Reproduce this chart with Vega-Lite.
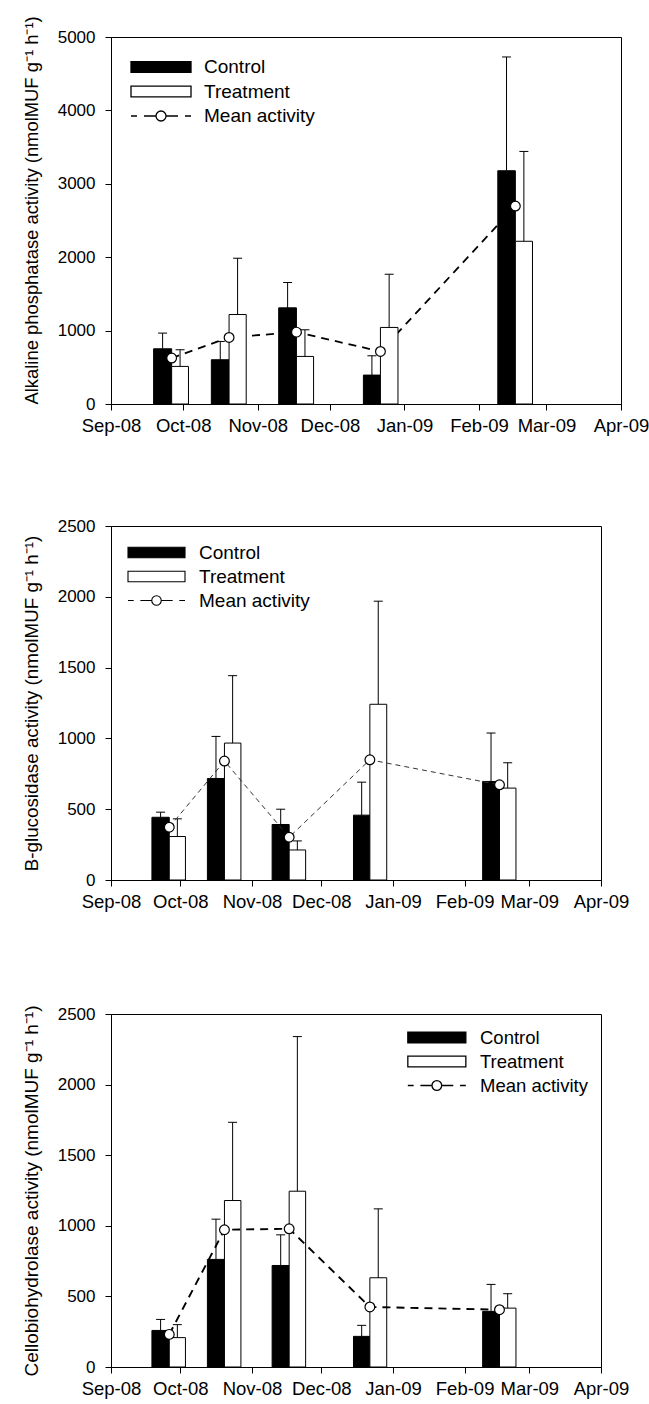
{
  "$schema": "https://vega.github.io/schema/vega-lite/v6.json",
  "padding": {"left": 21, "top": 15, "right": 5, "bottom": 5},
  "spacing": 81,
  "background": "white",
  "config": {
    "view": {"stroke": "black", "strokeWidth": 1},
    "font": "Liberation Sans",
    "axis": {"grid": false, "domainColor": "black", "tickColor": "black", "labelColor": "black", "titleColor": "black", "labelFont": "Liberation Sans", "titleFont": "Liberation Sans", "titleFontWeight": "normal"},
    "legend": {"labelFont": "Liberation Sans", "labelColor": "black"}
  },
  "resolve": {"scale": {"fill": "independent", "shape": "independent"}, "legend": {"fill": "independent", "shape": "independent"}},
  "datasets": {
    "bars": [
      {"p": "AP", "series": "Control", "start": "2008-09-18T17:00:00Z", "end": "2008-09-26T05:00:00Z", "c": "2008-09-22T11:00:00Z", "value": 752, "top": 966},
      {"p": "AP", "series": "Treatment", "start": "2008-09-26T05:00:00Z", "end": "2008-10-03T05:00:00Z", "c": "2008-09-29T17:00:00Z", "value": 512, "top": 739},
      {"p": "AP", "series": "Control", "start": "2008-10-12T17:00:00Z", "end": "2008-10-20T02:00:00Z", "c": "2008-10-16T10:00:00Z", "value": 603, "top": 852},
      {"p": "AP", "series": "Treatment", "start": "2008-10-20T02:00:00Z", "end": "2008-10-27T05:00:00Z", "c": "2008-10-23T15:00:00Z", "value": 1219, "top": 1986},
      {"p": "AP", "series": "Control", "start": "2008-11-09T17:00:00Z", "end": "2008-11-17T02:00:00Z", "c": "2008-11-13T10:00:00Z", "value": 1310, "top": 1655},
      {"p": "AP", "series": "Treatment", "start": "2008-11-17T02:00:00Z", "end": "2008-11-24T05:00:00Z", "c": "2008-11-20T15:00:00Z", "value": 648, "top": 1011},
      {"p": "AP", "series": "Control", "start": "2008-12-14T22:00:00Z", "end": "2008-12-22T00:00:00Z", "c": "2008-12-18T11:00:00Z", "value": 394, "top": 657},
      {"p": "AP", "series": "Treatment", "start": "2008-12-22T00:00:00Z", "end": "2008-12-29T07:00:00Z", "c": "2008-12-25T15:00:00Z", "value": 1043, "top": 1768},
      {"p": "AP", "series": "Control", "start": "2009-02-08T19:00:00Z", "end": "2009-02-16T02:00:00Z", "c": "2009-02-12T10:00:00Z", "value": 3178, "top": 4728},
      {"p": "AP", "series": "Treatment", "start": "2009-02-16T02:00:00Z", "end": "2009-02-23T05:00:00Z", "c": "2009-02-19T15:00:00Z", "value": 2217, "top": 3441},

      {"p": "BG", "series": "Control", "start": "2008-09-18T17:00:00Z", "end": "2008-09-26T05:00:00Z", "c": "2008-09-22T11:00:00Z", "value": 443, "top": 479},
      {"p": "BG", "series": "Treatment", "start": "2008-09-26T05:00:00Z", "end": "2008-10-03T05:00:00Z", "c": "2008-09-29T17:00:00Z", "value": 307, "top": 432},
      {"p": "BG", "series": "Control", "start": "2008-10-12T17:00:00Z", "end": "2008-10-20T02:00:00Z", "c": "2008-10-16T10:00:00Z", "value": 717, "top": 1014},
      {"p": "BG", "series": "Treatment", "start": "2008-10-20T02:00:00Z", "end": "2008-10-27T05:00:00Z", "c": "2008-10-23T15:00:00Z", "value": 967, "top": 1443},
      {"p": "BG", "series": "Control", "start": "2008-11-09T17:00:00Z", "end": "2008-11-17T02:00:00Z", "c": "2008-11-13T10:00:00Z", "value": 392, "top": 500},
      {"p": "BG", "series": "Treatment", "start": "2008-11-17T02:00:00Z", "end": "2008-11-24T05:00:00Z", "c": "2008-11-20T15:00:00Z", "value": 212, "top": 276},
      {"p": "BG", "series": "Control", "start": "2008-12-14T22:00:00Z", "end": "2008-12-22T00:00:00Z", "c": "2008-12-18T11:00:00Z", "value": 458, "top": 691},
      {"p": "BG", "series": "Treatment", "start": "2008-12-22T00:00:00Z", "end": "2008-12-29T07:00:00Z", "c": "2008-12-25T15:00:00Z", "value": 1241, "top": 1969},
      {"p": "BG", "series": "Control", "start": "2009-02-08T19:00:00Z", "end": "2009-02-16T02:00:00Z", "c": "2009-02-12T10:00:00Z", "value": 696, "top": 1038},
      {"p": "BG", "series": "Treatment", "start": "2009-02-16T02:00:00Z", "end": "2009-02-23T05:00:00Z", "c": "2009-02-19T15:00:00Z", "value": 649, "top": 828},

      {"p": "CB", "series": "Control", "start": "2008-09-18T17:00:00Z", "end": "2008-09-26T05:00:00Z", "c": "2008-09-22T11:00:00Z", "value": 259, "top": 337},
      {"p": "CB", "series": "Treatment", "start": "2008-09-26T05:00:00Z", "end": "2008-10-03T05:00:00Z", "c": "2008-09-29T17:00:00Z", "value": 208, "top": 300},
      {"p": "CB", "series": "Control", "start": "2008-10-12T17:00:00Z", "end": "2008-10-20T02:00:00Z", "c": "2008-10-16T10:00:00Z", "value": 762, "top": 1047},
      {"p": "CB", "series": "Treatment", "start": "2008-10-20T02:00:00Z", "end": "2008-10-27T05:00:00Z", "c": "2008-10-23T15:00:00Z", "value": 1179, "top": 1733},
      {"p": "CB", "series": "Control", "start": "2008-11-09T17:00:00Z", "end": "2008-11-17T02:00:00Z", "c": "2008-11-13T10:00:00Z", "value": 719, "top": 936},
      {"p": "CB", "series": "Treatment", "start": "2008-11-17T02:00:00Z", "end": "2008-11-24T05:00:00Z", "c": "2008-11-20T15:00:00Z", "value": 1245, "top": 2340},
      {"p": "CB", "series": "Control", "start": "2008-12-14T22:00:00Z", "end": "2008-12-22T00:00:00Z", "c": "2008-12-18T11:00:00Z", "value": 217, "top": 295},
      {"p": "CB", "series": "Treatment", "start": "2008-12-22T00:00:00Z", "end": "2008-12-29T07:00:00Z", "c": "2008-12-25T15:00:00Z", "value": 632, "top": 1120},
      {"p": "CB", "series": "Control", "start": "2009-02-08T19:00:00Z", "end": "2009-02-16T02:00:00Z", "c": "2009-02-12T10:00:00Z", "value": 394, "top": 585},
      {"p": "CB", "series": "Treatment", "start": "2009-02-16T02:00:00Z", "end": "2009-02-23T05:00:00Z", "c": "2009-02-19T15:00:00Z", "value": 417, "top": 519}
    ],
    "means": [
      {"p": "AP", "series": "Mean activity", "date": "2008-09-26T05:00:00Z", "value": 626},
      {"p": "AP", "series": "Mean activity", "date": "2008-10-20T02:00:00Z", "value": 907},
      {"p": "AP", "series": "Mean activity", "date": "2008-11-17T02:00:00Z", "value": 979},
      {"p": "AP", "series": "Mean activity", "date": "2008-12-22T00:00:00Z", "value": 716},
      {"p": "AP", "series": "Mean activity", "date": "2009-02-16T02:00:00Z", "value": 2697},
      {"p": "BG", "series": "Mean activity", "date": "2008-09-26T05:00:00Z", "value": 373},
      {"p": "BG", "series": "Mean activity", "date": "2008-10-20T02:00:00Z", "value": 840},
      {"p": "BG", "series": "Mean activity", "date": "2008-11-17T02:00:00Z", "value": 302},
      {"p": "BG", "series": "Mean activity", "date": "2008-12-22T00:00:00Z", "value": 849},
      {"p": "BG", "series": "Mean activity", "date": "2009-02-16T02:00:00Z", "value": 672},
      {"p": "CB", "series": "Mean activity", "date": "2008-09-26T05:00:00Z", "value": 231},
      {"p": "CB", "series": "Mean activity", "date": "2008-10-20T02:00:00Z", "value": 972},
      {"p": "CB", "series": "Mean activity", "date": "2008-11-17T02:00:00Z", "value": 979},
      {"p": "CB", "series": "Mean activity", "date": "2008-12-22T00:00:00Z", "value": 425},
      {"p": "CB", "series": "Mean activity", "date": "2009-02-16T02:00:00Z", "value": 406}
    ]
  },
  "vconcat": [
    {
      "width": 510,
      "height": 367,
      "layer": [
        {
          "data": {"name": "means"},
          "transform": [{"filter": "datum.p == 'AP'"}],
          "mark": {"type": "line", "color": "black", "strokeWidth": 1.8, "strokeDash": [8, 6]},
          "encoding": {
            "x": {"field": "date", "type": "temporal",
              "scale": {"type": "utc", "domain": [{"year": 2008, "month": 9, "date": 1, "utc": true}, {"year": 2009, "month": 4, "date": 1, "utc": true}]},
              "axis": {"title": null, "labelFontSize": 18.5, "labelOverlap": false, "labelFlush": false, "labelBound": false, "labelPadding": 6, "labelDx": -5,
                "tickSize": {"condition": {"test": "utcdate(datum.value) == 1", "value": 6}, "value": 3},
                "labelExpr": "utcdate(datum.value) == 1 ? utcFormat(datum.value, '%b-%y') : ''",
                "values": [
                  {"year": 2008, "month": 9, "date": 1, "utc": true}, {"year": 2008, "month": 9, "date": 8, "utc": true}, {"year": 2008, "month": 9, "date": 16, "utc": true}, {"year": 2008, "month": 9, "date": 23, "utc": true},
                  {"year": 2008, "month": 10, "date": 1, "utc": true}, {"year": 2008, "month": 10, "date": 8, "utc": true}, {"year": 2008, "month": 10, "date": 16, "utc": true}, {"year": 2008, "month": 10, "date": 23, "utc": true},
                  {"year": 2008, "month": 11, "date": 1, "utc": true}, {"year": 2008, "month": 11, "date": 8, "utc": true}, {"year": 2008, "month": 11, "date": 16, "utc": true}, {"year": 2008, "month": 11, "date": 23, "utc": true},
                  {"year": 2008, "month": 12, "date": 1, "utc": true}, {"year": 2008, "month": 12, "date": 8, "utc": true}, {"year": 2008, "month": 12, "date": 16, "utc": true}, {"year": 2008, "month": 12, "date": 23, "utc": true},
                  {"year": 2009, "month": 1, "date": 1, "utc": true}, {"year": 2009, "month": 1, "date": 8, "utc": true}, {"year": 2009, "month": 1, "date": 16, "utc": true}, {"year": 2009, "month": 1, "date": 23, "utc": true},
                  {"year": 2009, "month": 2, "date": 1, "utc": true}, {"year": 2009, "month": 2, "date": 8, "utc": true}, {"year": 2009, "month": 2, "date": 15, "utc": true}, {"year": 2009, "month": 2, "date": 22, "utc": true},
                  {"year": 2009, "month": 3, "date": 1, "utc": true}, {"year": 2009, "month": 3, "date": 8, "utc": true}, {"year": 2009, "month": 3, "date": 16, "utc": true}, {"year": 2009, "month": 3, "date": 23, "utc": true},
                  {"year": 2009, "month": 4, "date": 1, "utc": true}
                ]}},
            "y": {"field": "value", "type": "quantitative",
              "scale": {"domain": [0, 5000], "nice": false},
              "axis": {"title": "Alkaline phosphatase activity (nmolMUF g⁻¹ h⁻¹)", "titleAnchor": "start", "titleFontSize": 18.4, "titlePadding": 16, "labelFontSize": 17, "labelPadding": 10, "tickSize": 6, "format": "d", "values": [0, 1000, 2000, 3000, 4000, 5000]}}
          }
        },
        {
          "data": {"name": "bars"},
          "transform": [{"filter": "datum.p == 'AP'"}],
          "mark": {"type": "bar", "stroke": "black", "strokeWidth": 1, "opacity": 1},
          "encoding": {
            "x": {"field": "start", "type": "temporal"},
            "x2": {"field": "end"},
            "y": {"field": "value", "type": "quantitative"},
            "y2": {"datum": 0},
            "fill": {"field": "series", "type": "nominal",
              "scale": {"domain": ["Control", "Treatment", "Mean activity"], "range": ["black", "white", "white"]},
              "legend": {"title": null, "orient": "top-left", "offset": 19, "padding": 0, "symbolSize": 400, "labelFontSize": 19, "labelOffset": 52, "rowPadding": 3.5,
                "symbolStrokeColor": "black", "symbolStrokeWidth": 1.3, "symbolOpacity": 1}}
          }
        },
        {
          "data": {"name": "bars"},
          "transform": [{"filter": "datum.p == 'AP'"}],
          "mark": {"type": "rule", "color": "black", "strokeWidth": 1},
          "encoding": {
            "x": {"field": "c", "type": "temporal"},
            "y": {"field": "value", "type": "quantitative"},
            "y2": {"field": "top"}
          }
        },
        {
          "data": {"name": "bars"},
          "transform": [{"filter": "datum.p == 'AP'"}],
          "mark": {"type": "tick", "orient": "horizontal", "color": "black", "size": 9, "thickness": 1, "opacity": 1},
          "encoding": {
            "x": {"field": "c", "type": "temporal"},
            "y": {"field": "top", "type": "quantitative"}
          }
        },
        {
          "data": {"name": "means"},
          "transform": [{"filter": "datum.p == 'AP'"}],
          "mark": {"type": "point", "opacity": 0, "color": "black", "stroke": "black"},
          "encoding": {
            "x": {"field": "date", "type": "temporal"},
            "y": {"field": "value", "type": "quantitative"},
            "fill": {"field": "series", "type": "nominal"},
            "shape": {"field": "series", "type": "nominal",
              "scale": {"domain": ["Control", "Treatment", "Mean activity"], "range": ["M-1,-0.54H5V0.54H-1Z", "M-1,-0.54H5V0.54H-1Z", "M-1,0H-0.4M0.3,0H1.5M2.5,0H3.7M4.4,0H5M2.5,0A0.5,0.5,0,1,1,1.5,0A0.5,0.5,0,1,1,2.5,0"]},
              "legend": {"title": null, "orient": "top-left", "offset": 19, "padding": 0, "symbolSize": 400, "labelFontSize": 19, "labelOffset": 52, "rowPadding": 3.5,
                "symbolStrokeColor": "black", "symbolStrokeWidth": 1.3, "symbolOpacity": 1}}
          }
        },
        {
          "data": {"name": "means"},
          "transform": [{"filter": "datum.p == 'AP'"}],
          "mark": {"type": "point", "shape": "circle", "filled": false, "fill": "white", "fillOpacity": 1, "stroke": "black", "strokeWidth": 1.2, "size": 95, "opacity": 1},
          "encoding": {
            "x": {"field": "date", "type": "temporal"},
            "y": {"field": "value", "type": "quantitative"}
          }
        }
      ]
    },
    {
      "spacing": 93,
      "resolve": {"scale": {"fill": "independent", "shape": "independent"}, "legend": {"fill": "independent", "shape": "independent"}},
      "vconcat": [
        {
          "width": 490,
          "height": 354,
          "layer": [
            {
              "data": {"name": "bars"},
              "transform": [{"filter": "datum.p == 'BG'"}],
              "mark": {"type": "bar", "stroke": "black", "strokeWidth": 1, "opacity": 1},
              "encoding": {
                "x": {"field": "start", "type": "temporal",
                  "scale": {"type": "utc", "domain": [{"year": 2008, "month": 9, "date": 1, "utc": true}, {"year": 2009, "month": 4, "date": 1, "utc": true}]},
                  "axis": {"title": null, "labelFontSize": 18.5, "labelOverlap": false, "labelFlush": false, "labelBound": false, "labelPadding": 6, "labelDx": -5,
                    "tickSize": {"condition": {"test": "utcdate(datum.value) == 1", "value": 6}, "value": 3},
                    "labelExpr": "utcdate(datum.value) == 1 ? utcFormat(datum.value, '%b-%y') : ''",
                    "values": [
                      {"year": 2008, "month": 9, "date": 1, "utc": true}, {"year": 2008, "month": 9, "date": 8, "utc": true}, {"year": 2008, "month": 9, "date": 16, "utc": true}, {"year": 2008, "month": 9, "date": 23, "utc": true},
                      {"year": 2008, "month": 10, "date": 1, "utc": true}, {"year": 2008, "month": 10, "date": 8, "utc": true}, {"year": 2008, "month": 10, "date": 16, "utc": true}, {"year": 2008, "month": 10, "date": 23, "utc": true},
                      {"year": 2008, "month": 11, "date": 1, "utc": true}, {"year": 2008, "month": 11, "date": 8, "utc": true}, {"year": 2008, "month": 11, "date": 16, "utc": true}, {"year": 2008, "month": 11, "date": 23, "utc": true},
                      {"year": 2008, "month": 12, "date": 1, "utc": true}, {"year": 2008, "month": 12, "date": 8, "utc": true}, {"year": 2008, "month": 12, "date": 16, "utc": true}, {"year": 2008, "month": 12, "date": 23, "utc": true},
                      {"year": 2009, "month": 1, "date": 1, "utc": true}, {"year": 2009, "month": 1, "date": 8, "utc": true}, {"year": 2009, "month": 1, "date": 16, "utc": true}, {"year": 2009, "month": 1, "date": 23, "utc": true},
                      {"year": 2009, "month": 2, "date": 1, "utc": true}, {"year": 2009, "month": 2, "date": 8, "utc": true}, {"year": 2009, "month": 2, "date": 15, "utc": true}, {"year": 2009, "month": 2, "date": 22, "utc": true},
                      {"year": 2009, "month": 3, "date": 1, "utc": true}, {"year": 2009, "month": 3, "date": 8, "utc": true}, {"year": 2009, "month": 3, "date": 16, "utc": true}, {"year": 2009, "month": 3, "date": 23, "utc": true},
                      {"year": 2009, "month": 4, "date": 1, "utc": true}
                    ]}},
                "x2": {"field": "end"},
                "y": {"field": "value", "type": "quantitative",
                  "scale": {"domain": [0, 2500], "nice": false},
                  "axis": {"title": "B-glucosidase activity (nmolMUF g⁻¹ h⁻¹)", "titleFontSize": 18.8, "titlePadding": 16, "labelFontSize": 17, "labelPadding": 10, "tickSize": 6, "format": "d", "values": [0, 500, 1000, 1500, 2000, 2500]}},
                "y2": {"datum": 0},
                "fill": {"field": "series", "type": "nominal",
                  "scale": {"domain": ["Control", "Treatment", "Mean activity"], "range": ["black", "white", "white"]},
                  "legend": {"title": null, "orient": "top-left", "offset": 16, "padding": 0, "symbolSize": 361, "labelFontSize": 19, "labelOffset": 51, "rowPadding": 3,
                    "symbolStrokeColor": "black", "symbolStrokeWidth": 1.1, "symbolOpacity": 1}}
              }
            },
            {
              "data": {"name": "bars"},
              "transform": [{"filter": "datum.p == 'BG'"}],
              "mark": {"type": "rule", "color": "black", "strokeWidth": 1},
              "encoding": {
                "x": {"field": "c", "type": "temporal"},
                "y": {"field": "value", "type": "quantitative"},
                "y2": {"field": "top"}
              }
            },
            {
              "data": {"name": "bars"},
              "transform": [{"filter": "datum.p == 'BG'"}],
              "mark": {"type": "tick", "orient": "horizontal", "color": "black", "size": 9, "thickness": 1, "opacity": 1},
              "encoding": {
                "x": {"field": "c", "type": "temporal"},
                "y": {"field": "top", "type": "quantitative"}
              }
            },
            {
              "data": {"name": "means"},
              "transform": [{"filter": "datum.p == 'BG'"}],
              "mark": {"type": "line", "color": "#333", "strokeWidth": 1, "strokeDash": [5, 4]},
              "encoding": {
                "x": {"field": "date", "type": "temporal"},
                "y": {"field": "value", "type": "quantitative"}
              }
            },
            {
              "data": {"name": "means"},
              "transform": [{"filter": "datum.p == 'BG'"}],
              "mark": {"type": "point", "opacity": 0, "color": "black", "stroke": "black"},
              "encoding": {
                "x": {"field": "date", "type": "temporal"},
                "y": {"field": "value", "type": "quantitative"},
                "fill": {"field": "series", "type": "nominal"},
                "shape": {"field": "series", "type": "nominal",
                  "scale": {"domain": ["Control", "Treatment", "Mean activity"], "range": ["M-1,-0.56H5V0.56H-1Z", "M-1,-0.56H5V0.56H-1Z", "M-1,0H-0.4M0.3,0H1.5M2.5,0H3.7M4.4,0H5M2.5,0A0.5,0.5,0,1,1,1.5,0A0.5,0.5,0,1,1,2.5,0"]},
                  "legend": {"title": null, "orient": "top-left", "offset": 16, "padding": 0, "symbolSize": 361, "labelFontSize": 19, "labelOffset": 51, "rowPadding": 3,
                    "symbolStrokeColor": "black", "symbolStrokeWidth": 1.1, "symbolOpacity": 1}}
              }
            },
            {
              "data": {"name": "means"},
              "transform": [{"filter": "datum.p == 'BG'"}],
              "mark": {"type": "point", "shape": "circle", "filled": false, "fill": "white", "fillOpacity": 1, "stroke": "black", "strokeWidth": 1.2, "size": 95, "opacity": 1},
              "encoding": {
                "x": {"field": "date", "type": "temporal"},
                "y": {"field": "value", "type": "quantitative"}
              }
            }
          ]
        },
        {
          "width": 490,
          "height": 353,
          "layer": [
            {
              "data": {"name": "bars"},
              "transform": [{"filter": "datum.p == 'CB'"}],
              "mark": {"type": "bar", "stroke": "black", "strokeWidth": 1, "opacity": 1},
              "encoding": {
                "x": {"field": "start", "type": "temporal",
                  "scale": {"type": "utc", "domain": [{"year": 2008, "month": 9, "date": 1, "utc": true}, {"year": 2009, "month": 4, "date": 1, "utc": true}]},
                  "axis": {"title": null, "labelFontSize": 18.5, "labelOverlap": false, "labelFlush": false, "labelBound": false, "labelPadding": 6, "labelDx": -5,
                    "tickSize": {"condition": {"test": "utcdate(datum.value) == 1", "value": 6}, "value": 3},
                    "labelExpr": "utcdate(datum.value) == 1 ? utcFormat(datum.value, '%b-%y') : ''",
                    "values": [
                      {"year": 2008, "month": 9, "date": 1, "utc": true}, {"year": 2008, "month": 9, "date": 8, "utc": true}, {"year": 2008, "month": 9, "date": 16, "utc": true}, {"year": 2008, "month": 9, "date": 23, "utc": true},
                      {"year": 2008, "month": 10, "date": 1, "utc": true}, {"year": 2008, "month": 10, "date": 8, "utc": true}, {"year": 2008, "month": 10, "date": 16, "utc": true}, {"year": 2008, "month": 10, "date": 23, "utc": true},
                      {"year": 2008, "month": 11, "date": 1, "utc": true}, {"year": 2008, "month": 11, "date": 8, "utc": true}, {"year": 2008, "month": 11, "date": 16, "utc": true}, {"year": 2008, "month": 11, "date": 23, "utc": true},
                      {"year": 2008, "month": 12, "date": 1, "utc": true}, {"year": 2008, "month": 12, "date": 8, "utc": true}, {"year": 2008, "month": 12, "date": 16, "utc": true}, {"year": 2008, "month": 12, "date": 23, "utc": true},
                      {"year": 2009, "month": 1, "date": 1, "utc": true}, {"year": 2009, "month": 1, "date": 8, "utc": true}, {"year": 2009, "month": 1, "date": 16, "utc": true}, {"year": 2009, "month": 1, "date": 23, "utc": true},
                      {"year": 2009, "month": 2, "date": 1, "utc": true}, {"year": 2009, "month": 2, "date": 8, "utc": true}, {"year": 2009, "month": 2, "date": 15, "utc": true}, {"year": 2009, "month": 2, "date": 22, "utc": true},
                      {"year": 2009, "month": 3, "date": 1, "utc": true}, {"year": 2009, "month": 3, "date": 8, "utc": true}, {"year": 2009, "month": 3, "date": 16, "utc": true}, {"year": 2009, "month": 3, "date": 23, "utc": true},
                      {"year": 2009, "month": 4, "date": 1, "utc": true}
                    ]}},
                "x2": {"field": "end"},
                "y": {"field": "value", "type": "quantitative",
                  "scale": {"domain": [0, 2500], "nice": false},
                  "axis": {"title": "Cellobiohydrolase activity (nmolMUF g⁻¹ h⁻¹)", "titleFontSize": 19, "titlePadding": 16, "labelFontSize": 17, "labelPadding": 10, "tickSize": 6, "format": "d", "values": [0, 500, 1000, 1500, 2000, 2500]}},
                "y2": {"datum": 0},
                "fill": {"field": "series", "type": "nominal",
                  "scale": {"domain": ["Control", "Treatment", "Mean activity"], "range": ["black", "white", "white"]},
                  "legend": {"title": null, "orient": "top-right", "offset": 13, "padding": 0, "symbolSize": 374, "labelFontSize": 18.5, "labelOffset": 52, "rowPadding": 4,
                    "symbolStrokeColor": "black", "symbolStrokeWidth": 1.3, "symbolOpacity": 1}}
              }
            },
            {
              "data": {"name": "bars"},
              "transform": [{"filter": "datum.p == 'CB'"}],
              "mark": {"type": "rule", "color": "black", "strokeWidth": 1},
              "encoding": {
                "x": {"field": "c", "type": "temporal"},
                "y": {"field": "value", "type": "quantitative"},
                "y2": {"field": "top"}
              }
            },
            {
              "data": {"name": "bars"},
              "transform": [{"filter": "datum.p == 'CB'"}],
              "mark": {"type": "tick", "orient": "horizontal", "color": "black", "size": 9, "thickness": 1, "opacity": 1},
              "encoding": {
                "x": {"field": "c", "type": "temporal"},
                "y": {"field": "top", "type": "quantitative"}
              }
            },
            {
              "data": {"name": "means"},
              "transform": [{"filter": "datum.p == 'CB'"}],
              "mark": {"type": "line", "color": "black", "strokeWidth": 1.9, "strokeDash": [8, 6]},
              "encoding": {
                "x": {"field": "date", "type": "temporal"},
                "y": {"field": "value", "type": "quantitative"}
              }
            },
            {
              "data": {"name": "means"},
              "transform": [{"filter": "datum.p == 'CB'"}],
              "mark": {"type": "point", "opacity": 0, "color": "black", "stroke": "black"},
              "encoding": {
                "x": {"field": "date", "type": "temporal"},
                "y": {"field": "value", "type": "quantitative"},
                "fill": {"field": "series", "type": "nominal"},
                "shape": {"field": "series", "type": "nominal",
                  "scale": {"domain": ["Control", "Treatment", "Mean activity"], "range": ["M-1,-0.56H5V0.56H-1Z", "M-1,-0.56H5V0.56H-1Z", "M-1,0H-0.4M0.3,0H1.5M2.5,0H3.7M4.4,0H5M2.5,0A0.5,0.5,0,1,1,1.5,0A0.5,0.5,0,1,1,2.5,0"]},
                  "legend": {"title": null, "orient": "top-right", "offset": 13, "padding": 0, "symbolSize": 374, "labelFontSize": 18.5, "labelOffset": 52, "rowPadding": 4,
                    "symbolStrokeColor": "black", "symbolStrokeWidth": 1.3, "symbolOpacity": 1}}
              }
            },
            {
              "data": {"name": "means"},
              "transform": [{"filter": "datum.p == 'CB'"}],
              "mark": {"type": "point", "shape": "circle", "filled": false, "fill": "white", "fillOpacity": 1, "stroke": "black", "strokeWidth": 1.2, "size": 95, "opacity": 1},
              "encoding": {
                "x": {"field": "date", "type": "temporal"},
                "y": {"field": "value", "type": "quantitative"}
              }
            }
          ]
        }
      ]
    }
  ]
}
